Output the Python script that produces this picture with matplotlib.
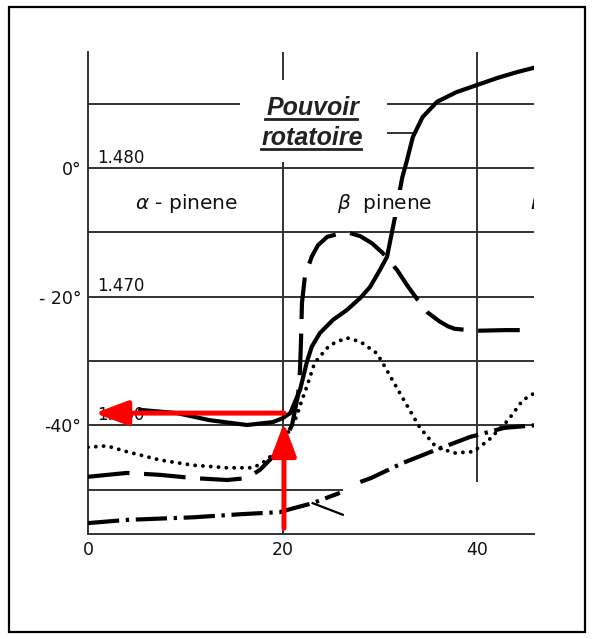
import numpy as np
import matplotlib
matplotlib.use("Agg")
import matplotlib.pyplot as plt
from matplotlib.patches import Rectangle, ArrowStyle
from matplotlib.lines import Line2D

# ---------------- data ----------------
x_ticks = [0, 20, 40]
x_tick_labels = ["0", "20", "40"]
y_ticks = [0, -20, -40]
y_tick_labels = ["0°", "- 20°", "-40°"]
index_labels = ["1.480", "1.470", "1.460"]

# solid curve (pouvoir rotatoire)
solid_x = [5.35, 9.15, 12.5, 16.35, 19.0, 20.0, 20.8, 21.8, 22.5, 23.0, 23.85, 25.2,
           26.6, 28.0, 29.0, 30.0, 30.75, 31.57, 32.3, 32.8, 33.4, 34.4, 35.9, 37.9,
           40.0, 42.1, 44.1, 45.9]
solid_y = [-37.6, -38.1, -39.2, -39.95, -39.5, -38.9, -38.1, -34.5, -30.2, -27.8, -25.65,
           -23.6, -22.1, -20.2, -18.5, -15.9, -13.8, -7.6, -1.55, 1.2, 4.8, 7.9, 10.3,
           11.8, 12.9, 14.0, 14.9, 15.6]

# long-dashed curve
dash_x = [0, 4.0, 7.4, 10.8, 14.3, 16.35, 17.7, 19.0, 20.1, 21.0, 21.6, 21.8, 21.9,
          22.0, 22.3, 23.0, 23.65, 24.6, 26.1, 26.9, 28.0, 29.2, 30.3, 31.8, 32.8,
          33.9, 34.96, 36.1, 37.0, 37.7, 40.0, 42.9, 45.9]
dash_y = [-48.0, -47.4, -47.7, -48.2, -48.5, -48.2, -46.9, -44.9, -43.0, -39.8, -35.3,
          -31.4, -27.0, -21.0, -16.9, -13.8, -12.0, -10.7, -10.1, -10.1, -10.6, -11.7,
          -13.2, -15.9, -18.2, -20.5, -22.5, -23.8, -24.6, -25.0, -25.3, -25.2, -25.2]

# dotted curve
dot_x = [0, 1.95, 4.0, 7.4, 10.8, 14.3, 17.0, 18.4, 19.4, 20.25, 21.3, 22.0, 22.5,
         23.3, 24.4, 24.9, 26.6, 28.0, 29.7, 30.3, 32.3, 34.1, 35.8, 37.7, 39.6, 41.2,
         43.2, 44.7, 45.9]
dot_y = [-43.4, -43.2, -44.1, -45.4, -46.2, -46.6, -46.6, -45.4, -43.8, -42.0, -39.2,
         -36.1, -34.0, -30.3, -28.3, -27.5, -26.4, -27.0, -28.8, -30.3, -35.6, -40.3,
         -43.4, -44.3, -44.1, -42.3, -39.2, -36.1, -35.0]

# dash-dot curve (with a faded gap)
dashdot_x = [0, 4.0, 10.8, 15.9, 19.7, 21.1, 23.1, 25.9, 27.5, 28.0, 29.1, 32.3, 35.8,
             39.3, 42.8, 45.9]
dashdot_y = [-55.2, -54.7, -54.3, -53.8, -53.5, -52.9, -52.1, -50.5, np.nan, -48.8,
             -48.2, -45.9, -43.8, -41.8, -40.4, -40.0]

# little leader stroke near the dash-dot curve
leader_x = [23.1, 26.2]
leader_y = [-52.1, -53.9]

# red reading arrows
arrow_x = 20.15
arrow_y = -38.1
arrow_h_tip = 0.7
arrow_v_tip = -39.6
arrow_v_base = -56.0

# ---------------- figure ----------------
W, H = 594, 639
fig = plt.figure(figsize=(W / 100, H / 100), dpi=100)
fig.patch.set_facecolor("white")

L, R, T, B = 88, 534, 52, 534
ax = fig.add_axes([L / W, 1 - B / H, (R - L) / W, (B - T) / H])
xs, y0, ys = 9.725, 168, 6.433
ax.set_xlim(0, (R - L) / xs)
ax.set_ylim((y0 - B) / ys, (y0 - T) / ys)
xmax = (R - L) / xs

gcol = "#333333"
glw = 1.4
for s in ["top", "right"]:
    ax.spines[s].set_visible(False)
for s in ["left", "bottom"]:
    ax.spines[s].set_color(gcol)
    ax.spines[s].set_linewidth(glw)

ax.set_xticks(x_ticks)
ax.set_xticklabels(x_tick_labels, fontsize=12.5, family="DejaVu Sans", color="#111")
ax.set_yticks(y_ticks)
ax.set_yticklabels(y_tick_labels, fontsize=12.5, family="DejaVu Sans", color="#111")
ax.tick_params(axis="x", length=0, pad=5)
ax.tick_params(axis="y", length=0, pad=5)

# grid lines of the scanned chart
for lev in [0, -10, -20, -30, -40]:
    ax.hlines(lev, 0, xmax, color=gcol, lw=glw, zorder=1)
ax.hlines(10, 0, 15.6, color=gcol, lw=glw, zorder=1)
ax.hlines(10, 30.7, xmax, color=gcol, lw=glw, zorder=1)
ax.hlines(5.4, 30.7, 33.4, color=gcol, lw=glw, zorder=1)
ax.hlines(-50, 0, 26.2, color=gcol, lw=glw, zorder=1)
ax.vlines(20, (y0 - 162) / ys, -56.9, color=gcol, lw=glw, zorder=1)
ax.vlines(20, (y0 - 80) / ys, 18.0, color=gcol, lw=glw, zorder=1)
ax.vlines(40, (y0 - 482) / ys, 18.0, color=gcol, lw=glw, zorder=1)

# curves
ax.plot(solid_x, solid_y, color="black", lw=3.0, solid_capstyle="round",
        solid_joinstyle="round", zorder=3)
ax.plot(dash_x, dash_y, color="black", lw=3.0, linestyle=(0, (10, 3.5)),
        dash_capstyle="butt", dash_joinstyle="round", zorder=3)
ax.plot(dot_x, dot_y, color="black", lw=2.8, linestyle=(0, (0.01, 2.0)),
        dash_capstyle="round", zorder=3)
ax.plot(dashdot_x, dashdot_y, color="black", lw=3.0,
        linestyle=(0, (7.5, 1.6, 0.8, 1.6)), dash_capstyle="butt", zorder=3)
ax.plot(leader_x, leader_y, color="black", lw=1.6, zorder=3)

# refractive index labels
for lev, lab in zip(y_ticks, index_labels):
    ax.text(0.93, lev + 0.85, lab, fontsize=12, family="DejaVu Sans", color="#111",
            ha="left", va="baseline", zorder=2)

# region labels
ax.text(10.1, -5.45, r"$\alpha$ - pinene", fontsize=14.5, family="DejaVu Sans",
        ha="center", va="center", color="#111", zorder=5)
ax.text(30.5, -5.45, r"$\beta$  pinene", fontsize=14.5, family="DejaVu Sans",
        ha="center", va="center", color="#111", zorder=5,
        bbox=dict(facecolor="white", edgecolor="none", pad=1.5))
ax.text(45.45, -5.45, "L", fontsize=14.5, family="DejaVu Sans", style="italic",
        ha="left", va="center", color="#111", clip_on=True)

t1 = ax.text(23.1, 8.24, "Pouvoir", fontsize=18, family="Liberation Sans",
             style="italic", fontweight="bold", ha="center", va="baseline", color="#222")
t2 = ax.text(23.1, 3.58, "rotatoire", fontsize=18, family="Liberation Sans",
             style="italic", fontweight="bold", ha="center", va="baseline", color="#222")

# red arrows
st = ArrowStyle("-|>", head_length=0.8, head_width=0.3)
ax.annotate("", xy=(arrow_h_tip, arrow_y), xytext=(arrow_x, arrow_y),
            arrowprops=dict(arrowstyle=st, color="#ff0000", lw=3.6, mutation_scale=25,
                            shrinkA=0, shrinkB=0), zorder=10, annotation_clip=False)
ax.annotate("", xy=(arrow_x, arrow_v_tip), xytext=(arrow_x, arrow_v_base),
            arrowprops=dict(arrowstyle=st, color="#ff0000", lw=3.6, mutation_scale=25,
                            shrinkA=0, shrinkB=0), zorder=10, annotation_clip=False)

# underline the title words
fig.canvas.draw()
r = fig.canvas.get_renderer()
for t in (t1, t2):
    bb = t.get_window_extent(renderer=r)
    yline = (bb.y0 + 1) / H
    fig.add_artist(Line2D([(bb.x0 - 1) / W, (bb.x1 - 2) / W], [yline, yline],
                          transform=fig.transFigure, color="#222", lw=2.0))

# outer frame
fig.add_artist(Rectangle((9 / W, 1 - 632 / H), (585 - 9) / W, (632 - 7) / H,
                         transform=fig.transFigure, fill=False, ec="black", lw=1.6))

fig.savefig("out.png", dpi=100, facecolor="white")
